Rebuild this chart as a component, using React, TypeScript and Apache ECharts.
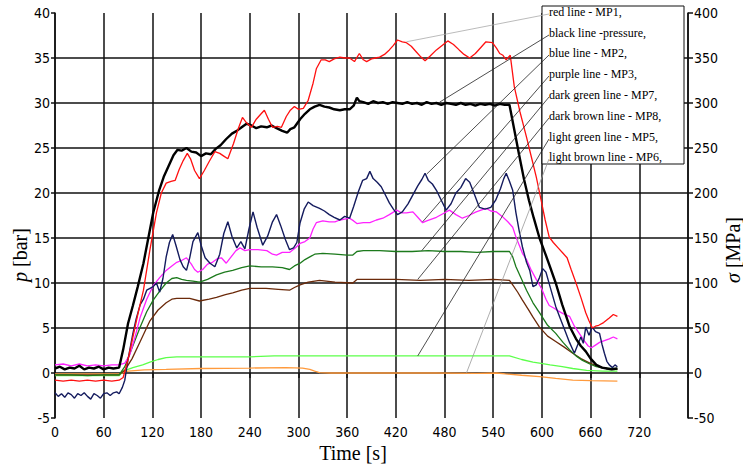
import React, { useEffect, useRef } from "react";
import * as echarts from "echarts";

// time [s] / pressure [bar]
const pressureBar: [number, number][] = [
  [0, 0.5], [6, 0.7], [12, 0.4], [18, 0.6], [24, 0.5], [30, 0.8], [36, 0.4], [42, 0.6], [48, 0.5], [54, 0.7],
  [60, 0.4], [66, 0.6], [72, 0.5], [79, 0.6], [84, 2.6], [90, 5.5], [96, 7.5], [102, 9.6], [109, 12.2], [115, 15],
  [121, 17.8], [128, 20.2], [134, 21.8], [140, 23], [146, 24.2], [151, 24.8], [156, 24.7], [162, 25], [168, 24.6],
  [174, 24.5], [180, 24.1], [186, 24.4], [192, 24.3], [198, 24.9], [204, 25.3], [211, 26], [218, 26.6], [224, 26.9],
  [230, 27.3], [236, 27.7], [242, 27.5], [248, 27.2], [254, 27.4], [261, 27.3], [267, 27.5], [273, 27.2], [280, 26.9],
  [286, 26.7], [290, 27.1], [295, 27.3], [302, 28.2], [308, 28.8], [314, 29.3], [320, 29.6], [326, 29.8], [332, 29.6],
  [338, 29.5], [344, 29.3], [351, 29.2], [357, 29.3], [363, 29.3], [368, 29.7], [372, 30.6], [375, 30.2], [380, 30.1],
  [386, 29.9], [392, 30.2], [398, 30.0], [404, 30.1], [410, 29.9], [416, 30.1], [422, 30.0], [428, 29.9], [434, 30.1],
  [440, 29.9], [446, 30.0], [452, 29.8], [458, 30.1], [464, 29.9], [470, 30.0], [476, 29.8], [482, 30.0], [488, 29.9],
  [494, 29.8], [500, 30.0], [506, 29.8], [512, 29.9], [518, 29.7], [524, 29.9], [530, 29.8], [536, 29.9], [542, 29.7],
  [548, 29.9], [554, 29.8], [560, 29.8], [566, 27], [572, 24.2], [578, 21.5], [584, 19.2], [590, 17.2], [597, 15],
  [604, 13.3], [610, 11.8], [617, 10], [625, 7.6], [634, 5.2], [642, 3.8], [648, 3.0], [654, 2.4], [660, 1.6],
  [667, 0.9], [674, 0.6], [680, 0.5], [686, 0.4], [693, 0.5],
];

// time [s] / stress [MPa]
const mp1Red: [number, number][] = [
  [0, -8], [10, -9], [20, -8], [30, -9], [40, -8], [50, -9], [60, -8], [70, -9], [79, -8], [84, -5], [90, 15],
  [96, 40], [102, 65], [109, 92], [117, 137], [125, 178], [131, 200], [137, 211], [143, 213], [148, 214], [153, 226],
  [158, 236], [163, 244], [167, 238], [172, 225], [178, 216], [184, 225], [190, 235], [197, 246], [203, 244],
  [208, 241], [213, 238], [220, 255], [226, 272], [231, 284], [236, 278], [242, 273], [248, 282], [254, 288],
  [258, 292], [263, 282], [268, 273], [274, 274], [279, 273], [285, 285], [290, 292], [295, 296], [300, 293],
  [306, 294], [312, 303], [318, 322], [322, 338], [328, 348], [333, 348], [338, 346], [344, 349], [351, 351],
  [357, 350], [363, 350], [369, 346], [375, 355], [380, 348], [384, 346], [390, 349], [395, 350], [400, 351],
  [406, 354], [412, 359], [417, 364], [422, 370], [428, 368], [433, 367], [439, 363], [445, 357], [451, 351],
  [456, 347], [462, 352], [470, 359], [477, 364], [484, 369], [491, 365], [498, 359], [504, 354], [511, 350],
  [518, 355], [525, 362], [531, 368], [539, 367], [544, 361], [548, 355], [552, 353], [556, 348], [561, 353],
  [566, 318], [573, 290], [581, 262], [587, 240], [593, 218], [599, 192], [604, 170], [609, 151], [614, 145],
  [620, 139], [626, 133], [631, 128], [636, 115], [642, 100], [648, 84], [654, 67], [658, 58], [662, 50],
  [666, 52], [670, 53], [676, 56], [683, 61], [688, 65], [693, 63],
];

const mp2Blue: [number, number][] = [
  [0, -22], [4, -26], [8, -23], [12, -27], [16, -22], [20, -24], [24, -28], [28, -23], [32, -25], [36, -22],
  [40, -26], [44, -29], [48, -23], [52, -25], [56, -28], [60, -23], [64, -22], [68, -25], [72, -22], [76, -21],
  [79, -23], [83, -16], [86, -8], [90, 15], [96, 44], [100, 60], [105, 76], [109, 82], [113, 92], [117, 94],
  [121, 96], [125, 100], [129, 90], [133, 105], [137, 129], [141, 145], [145, 154], [149, 142], [154, 126],
  [158, 118], [162, 114], [166, 128], [170, 146], [176, 156], [180, 142], [185, 128], [191, 122], [197, 118],
  [203, 132], [208, 155], [213, 168], [218, 152], [224, 139], [229, 146], [234, 138], [239, 160], [244, 179],
  [249, 162], [256, 142], [262, 152], [268, 168], [273, 176], [278, 164], [284, 148], [289, 137], [294, 139],
  [298, 145], [302, 167], [307, 182], [312, 190], [318, 186], [326, 183], [332, 180], [338, 176], [344, 173],
  [351, 170], [357, 174], [363, 172], [368, 185], [374, 202], [379, 214], [384, 216], [388, 224], [392, 216],
  [397, 212], [402, 207], [407, 198], [412, 189], [417, 182], [422, 176], [428, 179], [435, 188], [441, 198],
  [447, 208], [452, 215], [456, 222], [460, 214], [465, 210], [470, 203], [476, 192], [482, 181], [488, 188],
  [494, 200], [500, 206], [506, 216], [511, 212], [517, 198], [523, 184], [530, 182], [537, 184], [543, 192],
  [549, 205], [553, 216], [556, 222], [560, 213], [564, 203], [568, 178], [572, 158], [576, 140], [581, 123],
  [585, 114], [589, 96], [593, 98], [597, 106], [601, 116], [605, 112], [610, 96], [617, 74], [622, 62],
  [628, 48], [634, 34], [640, 22], [644, 31], [648, 40], [651, 33], [654, 51], [658, 42], [662, 51], [666, 46],
  [671, 44], [674, 32], [677, 22], [680, 13], [683, 9], [687, 6], [690, 9], [693, 7],
];

const mp3Purple: [number, number][] = [
  [0, 9], [10, 10], [20, 8], [30, 10], [40, 8], [50, 9], [60, 8], [70, 9], [79, 9], [86, 11], [92, 20],
  [98, 38], [105, 62], [113, 82], [121, 97], [129, 106], [137, 114], [144, 119], [150, 123], [156, 125],
  [162, 128], [168, 121], [172, 115], [176, 112], [182, 115], [188, 121], [194, 123], [200, 127], [205, 128],
  [211, 122], [217, 129], [223, 136], [228, 139], [234, 136], [240, 137], [250, 137], [261, 136], [268, 132],
  [273, 131], [280, 134], [289, 134], [296, 139], [302, 144], [308, 146], [314, 150], [318, 160], [322, 167],
  [330, 169], [338, 168], [345, 168], [351, 170], [357, 171], [363, 172], [368, 169], [372, 166], [380, 167],
  [388, 167], [396, 170], [404, 172], [412, 176], [421, 181], [427, 178], [433, 178], [441, 179], [447, 173],
  [453, 167], [458, 169], [464, 171], [470, 173], [478, 177], [486, 181], [494, 176], [502, 172], [510, 175],
  [519, 179], [525, 181], [531, 183], [537, 180], [544, 179], [551, 174], [558, 168], [564, 162], [568, 151],
  [576, 133], [581, 126], [587, 114], [593, 104], [600, 93], [605, 82], [609, 75], [615, 72], [620, 69],
  [626, 66], [634, 63], [640, 52], [646, 44], [652, 36], [657, 30], [661, 28], [666, 31], [671, 34], [677, 36],
  [683, 38], [688, 40], [693, 38],
];

const mp7DarkGreen: [number, number][] = [
  [0, -2], [20, -2], [40, -3], [60, -2], [79, -2], [86, 7], [95, 28], [105, 51], [113, 68], [121, 81],
  [129, 91], [137, 100], [144, 105], [150, 106], [156, 104], [162, 103], [170, 102], [178, 101], [188, 104],
  [199, 109], [209, 112], [219, 114], [230, 117], [240, 119], [254, 118], [268, 118], [280, 117], [289, 115],
  [295, 119], [302, 122], [308, 126], [314, 129], [320, 132], [330, 133], [345, 132], [360, 131], [367, 131],
  [372, 135], [380, 136], [400, 136], [420, 135], [440, 135], [460, 136], [480, 135], [500, 135], [520, 134],
  [540, 135], [560, 135], [564, 129], [568, 118], [574, 106], [581, 92], [589, 78], [597, 67], [607, 53],
  [617, 44], [626, 34], [634, 26], [642, 19], [650, 14], [659, 10], [667, 7], [680, 5], [693, 5],
];

const mp8DarkBrown: [number, number][] = [
  [0, -2], [40, -2], [79, -2], [86, 3], [95, 16], [105, 35], [117, 58], [127, 70], [137, 78], [144, 82],
  [150, 83], [166, 83], [178, 80], [190, 82], [199, 84], [210, 87], [219, 89], [230, 92], [240, 94], [260, 94],
  [275, 93], [289, 92], [295, 95], [302, 98], [312, 101], [326, 103], [345, 101], [367, 100], [372, 104],
  [390, 104], [420, 104], [450, 103], [480, 104], [510, 103], [540, 104], [560, 103], [564, 98], [570, 90],
  [576, 81], [583, 71], [589, 62], [597, 51], [607, 41], [617, 35], [627, 29], [638, 22], [648, 16], [659, 11],
  [670, 7], [680, 5], [693, 4],
];

const mp5LightGreen: [number, number][] = [
  [0, -3], [40, -3], [79, -3], [84, 2], [96, 6], [108, 9], [117, 12], [127, 15], [137, 17], [150, 18],
  [178, 18], [210, 18], [240, 18], [270, 19], [302, 19], [340, 19], [380, 19], [420, 19], [460, 19], [500, 19],
  [535, 19], [560, 19], [575, 15], [589, 12], [597, 11], [610, 9], [625, 7], [638, 5], [655, 3], [675, 2],
  [693, 2],
];

const mp6LightBrown: [number, number][] = [
  [0, -1], [40, -1], [79, -1], [90, 2], [110, 3.5], [137, 4], [180, 5], [240, 5.5], [285, 6], [305, 5.5],
  [314, 4], [320, 2], [326, 0.5], [340, 0], [380, 0], [420, 0], [470, 0], [520, -0.5], [544, 0], [555, -1],
  [575, -2.5], [597, -4], [617, -6], [638, -8], [660, -8.5], [693, -9],
];

const legendLabels = [
  "red line - MP1,",
  "black line -pressure,",
  "blue line - MP2,",
  "purple line - MP3,",
  "dark green line - MP7,",
  "dark brown line - MP8,",
  "light green line - MP5,",
  "light brown line - MP6,",
];

// point on each curve (time [s], pressure-axis value [bar]) that the legend's leader line points to
const leaderAnchors: [number, number][] = [
  [433, 36.8], [474, 30.1], [458, 22.1], [453, 16.8], [452, 13.6], [447, 10.4], [447, 1.9], [507, 0.0],
];
const leaderColors = ["#aaaaaa", "#222", "#222", "#222", "#222", "#222", "#222", "#999999"];

const TICK_FONT = "'Liberation Sans Narrow', 'Arial Narrow', 'DejaVu Sans Condensed', sans-serif";
const SERIF = "'Liberation Serif', 'Times New Roman', serif";

export default function App() {
  const ref = useRef<HTMLDivElement>(null);
  useEffect(() => {
    if (!ref.current) return;
    const chart = echarts.init(ref.current, undefined, { renderer: "svg" });
    const mk = (name: string, data: [number, number][], color: string, width: number, yAxisIndex: number, z: number) => ({
      name,
      type: "line",
      data,
      yAxisIndex,
      showSymbol: false,
      symbol: "none",
      z,
      lineStyle: { color, width },
      itemStyle: { color },
    });
    const gridLine = { color: "#111", width: 1.5 };
    chart.setOption({
      animation: false,
      backgroundColor: "#fff",
      grid: { left: 55, right: 55, top: 13, bottom: 50, containLabel: false },
      xAxis: {
        type: "value",
        min: 0,
        max: 780,
        interval: 60,
        axisLine: { show: false },
        axisTick: { show: true, length: 5, lineStyle: { color: "#111", width: 1.5 } },
        axisLabel: {
          margin: 7,
          color: "#000",
          fontSize: 14,
          fontFamily: TICK_FONT,
          formatter: (v: number) => (v === 780 ? "" : String(v)),
        },
        splitLine: { show: true, lineStyle: gridLine },
      },
      yAxis: [
        {
          type: "value",
          position: "left",
          min: -5,
          max: 40,
          interval: 5,
          axisLine: { show: true, lineStyle: { color: "#111", width: 1.5 } },
          axisTick: { show: true, length: 4, lineStyle: { color: "#111", width: 1.5 } },
          axisLabel: { margin: 5, color: "#000", fontSize: 14, fontFamily: TICK_FONT },
          splitLine: { show: true, showMinLine: false, showMaxLine: false, lineStyle: gridLine },
        },
        {
          type: "value",
          position: "right",
          min: -50,
          max: 400,
          interval: 50,
          axisLine: { show: true, lineStyle: { color: "#111", width: 1.5 } },
          axisTick: { show: true, length: 5, lineStyle: { color: "#111", width: 1.5 } },
          axisLabel: { margin: 6, color: "#000", fontSize: 14, fontFamily: TICK_FONT },
          splitLine: { show: false },
        },
      ],
      series: [
        mk("MP6", mp6LightBrown, "#ff9a3c", 1.3, 1, 2),
        mk("MP5", mp5LightGreen, "#5cff4a", 1.3, 1, 2),
        mk("MP8", mp8DarkBrown, "#6b2a0a", 1.3, 1, 2),
        mk("MP7", mp7DarkGreen, "#1c7a1c", 1.3, 1, 2),
        mk("MP3", mp3Purple, "#ff22ff", 1.3, 1, 2),
        mk("MP2", mp2Blue, "#141b5e", 1.4, 1, 2),
        mk("pressure", pressureBar, "#000000", 2.4, 0, 3),
        mk("MP1", mp1Red, "#ff1010", 1.3, 1, 4),
      ],
    });

    const boxX = 542, boxY = 6, boxW = 142, boxH = 158;
    const textX = 549;
    const textYs = [12, 33, 53, 74, 95, 116, 137, 157];
    const leaders = leaderAnchors.map((a, i) => {
      const p = chart.convertToPixel({ xAxisIndex: 0, yAxisIndex: 0 }, a) as number[];
      return {
        type: "line",
        z: 20,
        shape: { x1: textX, y1: textYs[i] + 2, x2: p[0], y2: p[1] },
        style: { stroke: leaderColors[i], lineWidth: 0.8 },
      };
    });
    const texts = legendLabels.map((t, i) => ({
      type: "text",
      z: 21,
      x: textX,
      y: textYs[i],
      style: { text: t, font: `12px ${SERIF}`, fill: "#000", verticalAlign: "middle", align: "left" },
    }));
    chart.setOption({
      graphic: [
        {
          type: "rect",
          z: 15,
          shape: { x: boxX, y: boxY, width: boxW, height: boxH },
          style: { fill: "#fff", stroke: "#111", lineWidth: 1 },
        },
        ...leaders,
        ...texts,
        {
          type: "text",
          z: 21,
          x: 20,
          y: 255,
          rotation: Math.PI / 2,
          style: {
            text: "{i|p} [bar]",
            font: `20px ${SERIF}`,
            fill: "#000",
            align: "center",
            verticalAlign: "middle",
            rich: { i: { fontStyle: "italic", fontSize: 20, fontFamily: SERIF } },
          },
        },
        {
          type: "text",
          z: 21,
          x: 733,
          y: 250,
          rotation: Math.PI / 2,
          style: {
            text: "{i|σ} [MPa]",
            font: `20px ${SERIF}`,
            fill: "#000",
            align: "center",
            verticalAlign: "middle",
            rich: { i: { fontStyle: "italic", fontSize: 20, fontFamily: SERIF } },
          },
        },
        {
          type: "text",
          z: 21,
          x: 353,
          y: 453,
          style: { text: "Time [s]", font: `20px ${SERIF}`, fill: "#000", align: "center", verticalAlign: "middle" },
        },
      ],
    });
    return () => chart.dispose();
  }, []);
  return (
    <div
      ref={ref}
      style={{ position: "absolute", left: 0, top: 0, width: 743, height: 468, background: "#fff" }}
    />
  );
}
